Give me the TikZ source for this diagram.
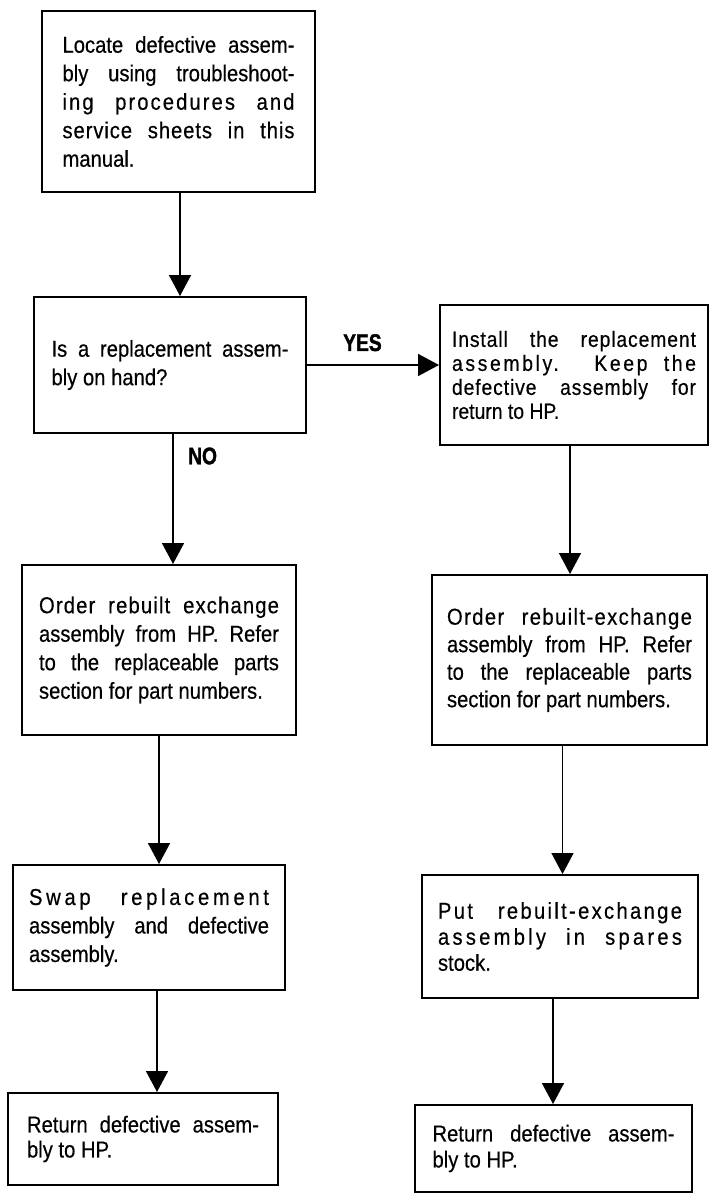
\documentclass[tikz,border=0pt]{standalone}
\usepackage{fontspec}
\setmainfont{Liberation Sans}[FakeStretch=0.88, FakeBold=0.4]
\newfontfamily\lblfont{Liberation Sans Bold}[FakeStretch=0.8, FakeBold=1.5]
\usetikzlibrary{arrows.meta}
\newcommand\lspc[2]{{\addfontfeature{LetterSpace=#1}#2}}
\begin{document}
\begin{tikzpicture}[x=1pt,y=1pt,
  box/.style={draw, line width=2pt, inner sep=0pt, align=justify,
    font=\fontsize{23}{28.5}\selectfont},
  arr/.style={line width=1.6pt, -{Triangle[width=22pt,length=21pt]}},
  lbl/.style={font=\lblfont\fontsize{24}{24}\selectfont, inner sep=0pt}]
\path[use as bounding box, fill=white] (0,0) rectangle (709,-1199);

\node[box, minimum width=273, minimum height=181, text width=232] (b1) at (178.5,-101.5)
 {Locate defective assem-\linebreak bly using troubleshoot-\linebreak \lspc{9}{ing procedures and}\linebreak \lspc{4}{service sheets in this}\linebreak manual.};

\node[box, minimum width=272, minimum height=136, text width=237] (b2) at (170,-365)
 {Is a replacement assem-\linebreak bly on hand?};

\node[box, minimum width=268, minimum height=140, text width=244,
  font=\fontsize{22}{24}\selectfont] (b3) at (574,-375)
 {\lspc{4}{Install the replacement}\linebreak \lspc{12}{assembly. Keep the}\linebreak \lspc{4}{defective assembly for}\linebreak return to HP.};

\node[box, minimum width=274, minimum height=170, text width=240] (b4) at (159,-650)
 {\lspc{5}{Order rebuilt exchange}\linebreak assembly from HP. Refer\linebreak to the replaceable parts\linebreak section for part numbers.};

\node[box, minimum width=275, minimum height=170, text width=245,
  font=\fontsize{23}{27.5}\selectfont] (b5) at (569.5,-660)
 {\lspc{6}{Order rebuilt-exchange}\linebreak assembly from HP. Refer\linebreak to the replaceable parts\linebreak section for part numbers.};

\node[box, minimum width=272, minimum height=125, text width=240] (b6) at (149,-927.5)
 {\lspc{16}{Swap replacement}\linebreak assembly and defective\linebreak assembly.};

\node[box, minimum width=270, minimum height=92, text width=232,
  font=\fontsize{23}{25}\selectfont] (b7) at (143,-1139)
 {Return defective assem-\linebreak bly to HP.};

\node[box, minimum width=276, minimum height=123, text width=244,
  font=\fontsize{23}{26}\selectfont] (b8) at (560,-936.5)
 {\lspc{10}{Put rebuilt-exchange}\linebreak \lspc{14}{assembly in spares}\linebreak stock.};

\node[box, minimum width=277, minimum height=87, text width=242,
  font=\fontsize{23}{26}\selectfont] (b9) at (553.5,-1148.5)
 {Return defective assem-\linebreak bly to HP.};

\draw[arr] ([xshift=1.5pt]b1.south) -- ([xshift=1.5pt]b1.south |- b2.north);
\draw[arr] (b2.east) -- (b2.east -| b3.west)
  node[lbl, pos=0.42, above=13pt] (yes) {YES};
\draw[arr] ([xshift=3pt]b2.south) -- ([xshift=3pt]b2.south |- b4.north);
\node[lbl, anchor=west] (no) at ([xshift=18pt,yshift=-22pt]b2.south) {NO};
\draw[arr] ([xshift=-4pt]b3.south) -- ([xshift=-4pt]b3.south |- b5.north);
\draw[arr] (b4.south) -- (b4.south |- b6.north);
\draw[arr] ([xshift=-7pt]b5.south) -- ([xshift=-7pt]b5.south |- b8.north);
\draw[arr] ([xshift=8pt]b6.south) -- ([xshift=8pt]b6.south |- b7.north);
\draw[arr] ([xshift=-7pt]b8.south) -- ([xshift=-7pt]b8.south |- b9.north);
\end{tikzpicture}
\end{document}
